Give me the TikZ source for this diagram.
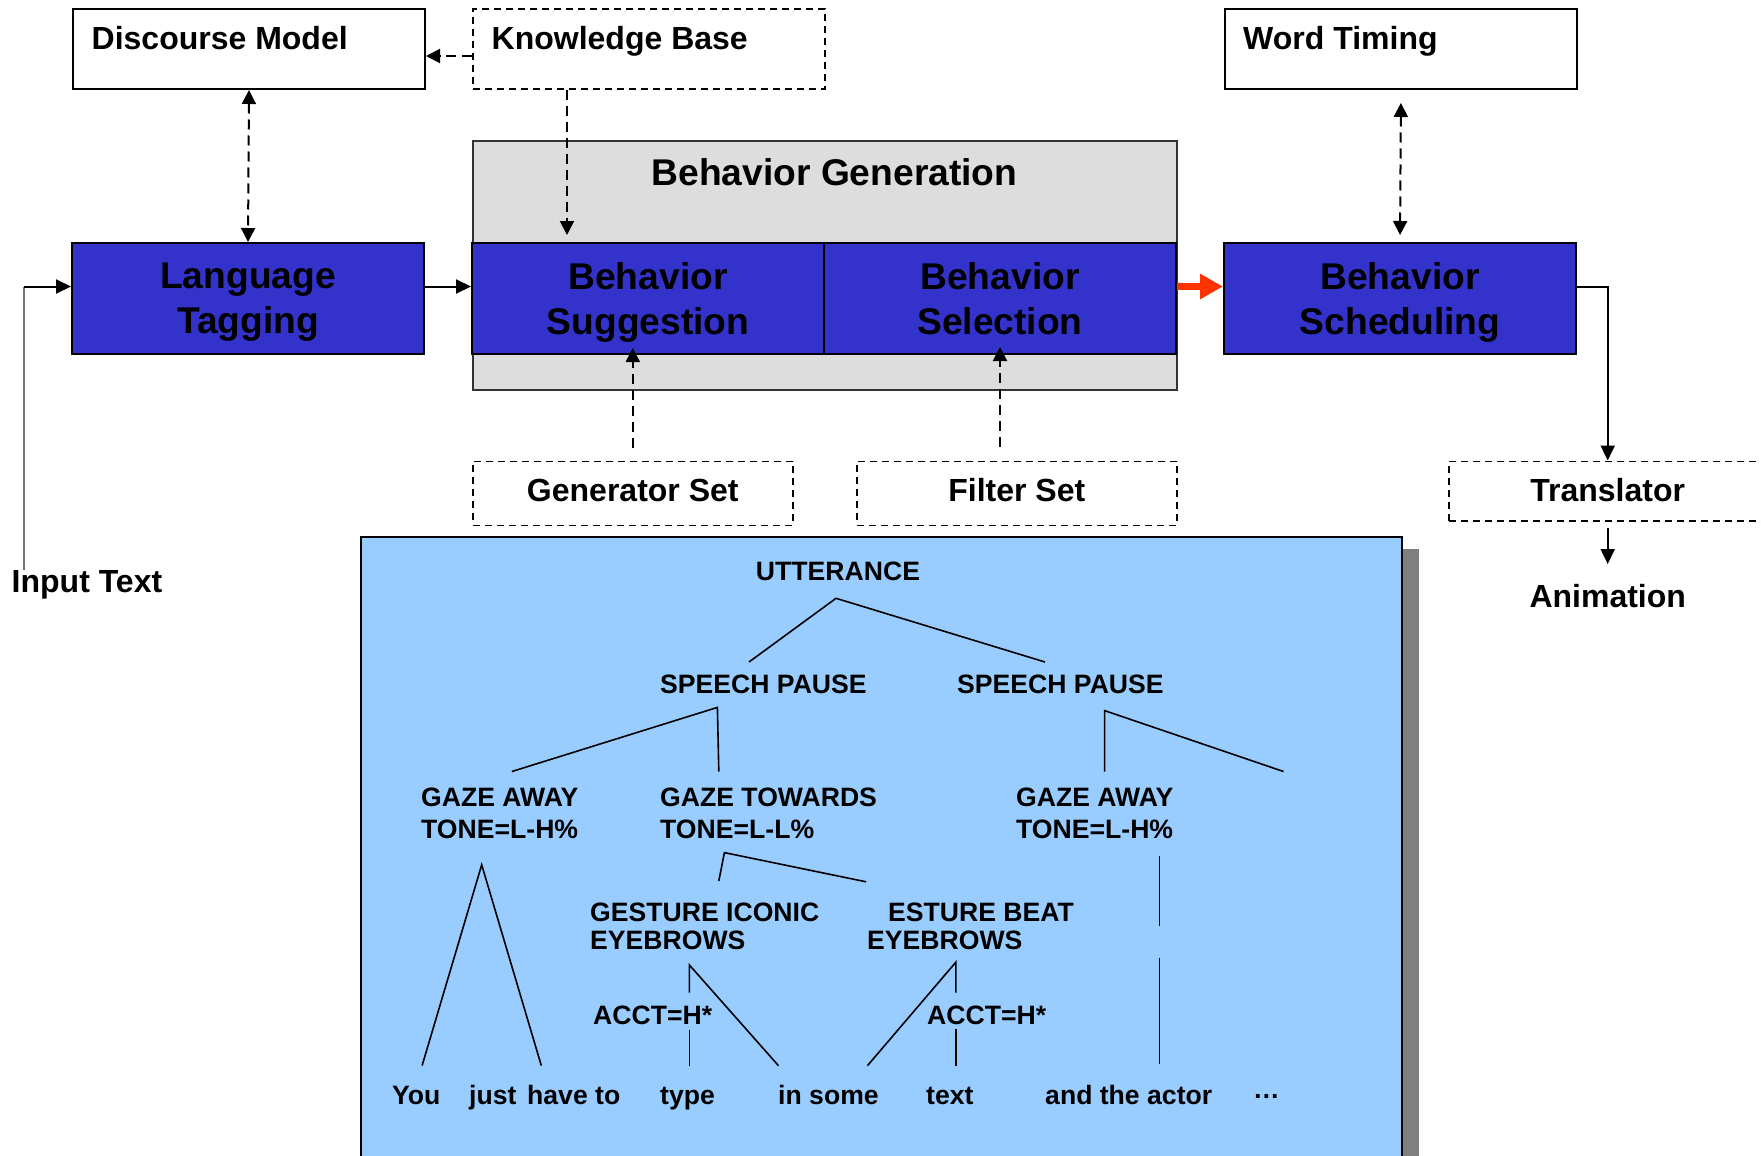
\documentclass[tikz,border=0pt]{standalone}
\usepackage{fontspec}
\setmainfont{Liberation Sans}
\usetikzlibrary{arrows.meta}
\definecolor{boxblue}{HTML}{3333CC}
\definecolor{gengray}{HTML}{DDDDDD}
\definecolor{treeblue}{HTML}{99CCFF}
\definecolor{shadowgray}{HTML}{808080}
\definecolor{redarrow}{HTML}{FF3300}
\newcommand\fmain{\fontsize{32}{38}\selectfont\bfseries}
\newcommand\fbig{\fontsize{37.2}{45}\selectfont\bfseries}
\newcommand\ftree{\fontsize{26.6}{31}\selectfont\bfseries}
\tikzset{
  box/.style={draw, line width=2pt, rectangle, inner sep=0pt, minimum width=352pt},
  plainbox/.style={box, fill=white, minimum height=80pt},
  dbox/.style={draw, line width=1.6pt, dash pattern=on 7pt off 5pt, rectangle, inner sep=0pt, fill=white},
  bluebox/.style={box, fill=boxblue, minimum height=111pt, font=\fbig, align=center, text depth=0pt},
  txt/.style={inner sep=0pt, font=\fmain},
  ttxt/.style={inner sep=0pt, font=\ftree, anchor=base west},
  arr/.style={line width=2pt, -{Triangle[length=15pt,width=14pt]}},
  darr/.style={line width=2pt, dash pattern=on 10pt off 6pt, -{Triangle[length=14pt,width=14pt]}},
  ddarr/.style={line width=2pt, dash pattern=on 10pt off 6pt, {Triangle[length=14pt,width=14pt]}-{Triangle[length=14pt,width=14pt]}},
  tline/.style={line width=1.6pt},
}
\begin{document}
\begin{tikzpicture}[x=1pt,y=-1pt]
\clip (0,0) rectangle (1761,1156);
\fill[white] (0,0) rectangle (1761,1156);

% helper coordinates for arrow heights
\coordinate (ay) at (0,286.5);
\coordinate (ky) at (0,56);
\coordinate (kbx) at (567,0);

% top row
\node[plainbox, anchor=north west] (dm) at (72,8) {};
\node[txt, anchor=base west] (dmt) at (91.5,49) {Discourse Model};
\node[dbox, anchor=north west, minimum width=352pt, minimum height=80pt] (kb) at (472,8) {};
\node[txt, anchor=base west] (kbt) at (491.5,49) {Knowledge Base};
\node[plainbox, anchor=north west] (wt) at (1224,8) {};
\node[txt, anchor=base west] (wtt) at (1243,49) {Word Timing};

% behavior generation
\node[draw=black!80, line width=2pt, fill=gengray, inner sep=0pt, minimum width=704pt, minimum height=249pt, anchor=north west] (bg) at (472,140) {};
\node[inner sep=0pt, font=\fbig, anchor=base] (bgt) at (834.5,185) {Behavior Generation};

\node[bluebox] (lt) at (248,298.5) {Language\\Tagging};
\node[bluebox] (bs) at (648,298.5) {Behavior\\Suggestion};
\node[bluebox] (bsel) at (1000,298.5) {Behavior\\Selection};
\node[bluebox] (bsch) at (1400,298.5) {Behavior\\Scheduling};

% lower boxes
\node[dbox, anchor=north west, minimum width=320pt, minimum height=64pt] (gs) at (472,460.5) {};
\node[txt] (gst) at ([yshift=2.5pt]gs.center) {Generator Set};
\node[dbox, anchor=north west, minimum width=320pt, minimum height=64pt] (fs) at (856,460.5) {};
\node[txt] (fst) at ([yshift=3.5pt]fs.center) {Filter Set};
\node[dbox, anchor=north west, minimum width=352pt, minimum height=59.5pt] (tr) at (1448,460.5) {};
\node[txt] (trt) at (1607.7,490) {Translator};
\node[txt] (an) at (1607.7,596) {Animation};
\node[txt, anchor=base west] (it) at (11.5,592) {Input Text};

% connectors
\draw[darr] (kb.west |- ky) -- (dm.east |- ky);
\draw[ddarr] (dm.south) -- (lt.north);
\draw[darr, shorten >=7pt] (kb.south -| kbx) -- (bs.north -| kbx);
\draw[ddarr, shorten <=13pt, shorten >=7pt] (wt.south) -- (bsch.north);
\draw[arr] (lt.east |- ay) -- (bs.west |- ay);
\draw[line width=7.7pt, redarrow, -{Triangle[length=23pt,width=24pt]}] (bsel.east |- ay) -- (bsch.west |- ay);
\draw[arr] (bsch.east |- ay) -| (trt |- tr.north);
\draw[arr, shorten <=6pt, shorten >=20pt] (trt |- tr.south) -- (an.north);
\draw[darr, shorten <=13pt, shorten >=-7pt] (gs.north) -- (bs.south -| gs.north);
\draw[darr, shorten <=14pt, shorten >=-8pt] (fs.north -| bsel.south) -- (bsel.south);
\coordinate (itc) at (24,286.5);
\coordinate (itb) at (24,570);
\draw[line width=1.6pt, black!55] (itb) -- (itc);
\draw[arr] (itc) -- (lt.west |- ay);

% tree panel
\fill[shadowgray] (377.5,549) rectangle (1418.5,1200);
\node[draw, line width=2pt, fill=treeblue, inner sep=0pt, anchor=north west, minimum width=1041pt, minimum height=700pt] (tb) at (359.5,536) {};

\node[inner sep=0pt, font=\ftree, anchor=base] (utt) at (838,580) {UTTERANCE};
\node[ttxt] (sp1) at (660,693.6) {SPEECH PAUSE};
\node[ttxt] (sp2) at (957,693.6) {SPEECH PAUSE};
\node[ttxt] (ga1a) at (421,806.8) {GAZE AWAY};
\node[ttxt] (ga1b) at (421,838.5) {TONE=L-H\%};
\node[ttxt] (gta) at (660,806.8) {GAZE TOWARDS};
\node[ttxt] (gtb) at (660,838.5) {TONE=L-L\%};
\node[ttxt] (ga2a) at (1016,806.8) {GAZE AWAY};
\node[ttxt] (ga2b) at (1016,838.5) {TONE=L-H\%};
\node[ttxt] (gia) at (590,921.6) {GESTURE ICONIC};
\node[ttxt] (gib) at (590,949.5) {EYEBROWS};
\node[ttxt] (eba) at (888,921.6) {ESTURE BEAT};
\node[ttxt] (ebb) at (867,949.5) {EYEBROWS};
\node[ttxt] (ac1) at (593,1024.3) {ACCT=H*};
\node[ttxt] (ac2) at (927,1024.3) {ACCT=H*};
\node[ttxt] (w1) at (392,1104) {You};
\node[ttxt] (w2) at (469,1104) {just};
\node[ttxt] (w3) at (527,1104) {have to};
\node[ttxt] (w4) at (660,1104) {type};
\node[ttxt] (w5) at (778,1104) {in some};
\node[ttxt] (w6) at (926,1104) {text};
\node[ttxt] (w7) at (1045,1104) {and the actor};
\node[ttxt] (w8) at (1253,1104) {\raisebox{6pt}{…}};

% tree lines
\draw[tline] (749,662) -- (836,598.3) -- (1045,662);
\draw[tline] (511.9,771.5) -- (717.4,707.4) -- (718.8,771.5);
\draw[tline] (1104.6,771.5) -- (1104.6,710.6) -- (1283.5,771.5);
\draw[tline] (422.1,1065.6) -- (481.7,864.8) -- (541.3,1065.6);
\draw[tline] (718.8,881) -- (724.4,852.6) -- (866.1,881.8);
\draw[tline] (689.4,992.5) -- (689.4,965) -- (778.4,1065.6);
\draw[tline] (689.4,1030.3) -- (689.4,1065.6);
\draw[tline] (867.5,1065.6) -- (955.9,962.1) -- (955.9,992.5);
\draw[tline] (955.9,1029) -- (955.9,1065.6);
\draw[tline] (1159.4,855.9) -- (1159.4,925.6);
\draw[tline] (1159.4,958) -- (1159.4,1063.5);
\end{tikzpicture}
\end{document}
